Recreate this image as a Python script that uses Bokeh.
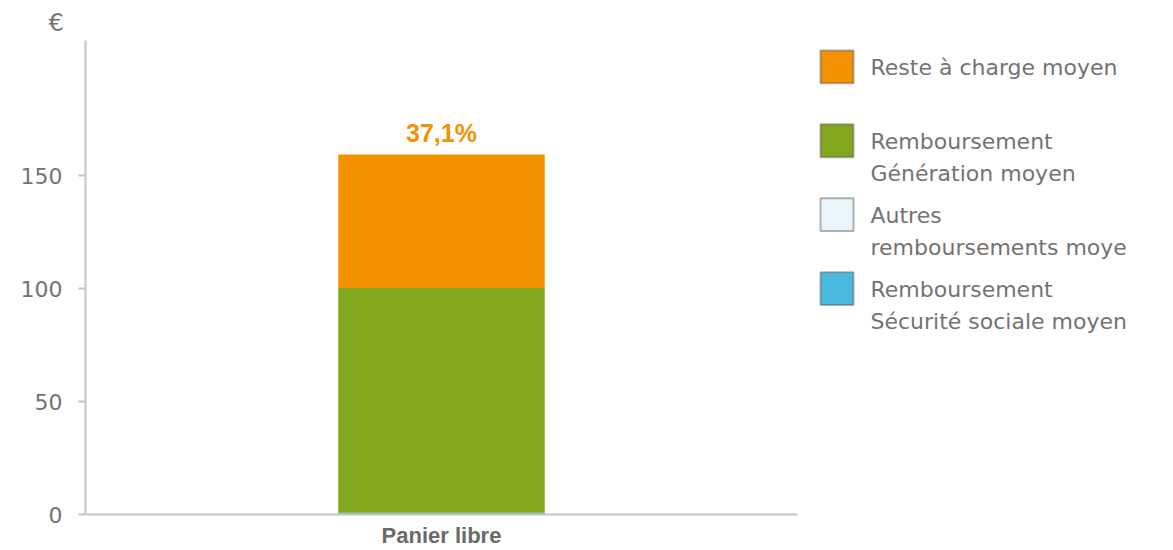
from bokeh.plotting import figure
from bokeh.layouts import row
from bokeh.models import FactorRange, Range1d, FixedTicker, ColumnDataSource
from bokeh.core.properties import value
from bokeh.embed import file_html
from bokeh.resources import INLINE

# ---- data ----
categories = ["Panier libre"]
securite_sociale = [0.8]
autres = [0.0]
generation = [99.5]
reste = [59.2]
reste_pct_labels = ["37,1%"]
series_keys = ["securite_sociale", "autres", "generation", "reste"]
series_names = ["Remboursement\nSécurité sociale moyen",
                "Autres\nremboursements moye",
                "Remboursement\nGénération moyen",
                "Reste à charge moyen"]
colors = ["#4AB9E0", "#EBF6FB", "#82A71E", "#F39200"]
y_ticks = [0, 50, 100, 150]
unit_label = "€"

totals = [a + b + c + d for a, b, c, d in zip(securite_sociale, autres, generation, reste)]

source = ColumnDataSource(dict(cat=categories, securite_sociale=securite_sociale,
                               autres=autres, generation=generation, reste=reste,
                               total=totals, pct=reste_pct_labels))

TEXT = "#737373"
AXIS = "#C4C4C4"
FONT = "Liberation Sans"
LFONT = "DejaVu Sans"
TOP, BOTTOM, H = 40, 33, 550

# ---------------- main chart ----------------
p = figure(x_range=FactorRange(factors=categories, range_padding=0),
           y_range=Range1d(0, 210),
           width=810, height=H,
           min_border_left=85, min_border_top=TOP, min_border_right=13,
           min_border_bottom=BOTTOM,
           output_backend="svg", toolbar_location=None, tools="")

p.vbar_stack(series_keys, x="cat", width=0.29, color=colors,
             line_width=0, source=source)

# percentage label above bar
p.text(x="cat", y="total", text="pct", source=source, y_offset=-21,
       text_align="center", text_baseline="middle",
       text_color="#F39200", text_font_size="25px", text_font_style="bold",
       text_font=value(FONT))

# unit label (as title in the top-left corner)
p.title.text = unit_label
p.title.align = "left"
p.title.offset = -37
p.title.standoff = 7
p.title.text_font = LFONT
p.title.text_font_size = "24px"
p.title.text_font_style = "normal"
p.title.text_color = TEXT

# axes
p.yaxis.ticker = FixedTicker(ticks=y_ticks)
p.yaxis.axis_line_color = AXIS
p.yaxis.axis_line_width = 2
p.yaxis.major_tick_line_color = AXIS
p.yaxis.major_tick_line_width = 2
p.yaxis.major_tick_out = 7
p.yaxis.major_tick_in = 0
p.yaxis.minor_tick_line_color = None
p.yaxis.major_label_standoff = 16
p.yaxis.major_label_text_font = LFONT
p.yaxis.major_label_text_font_size = "22px"
p.yaxis.major_label_text_color = TEXT

p.xaxis.axis_line_color = AXIS
p.xaxis.axis_line_width = 2
p.xaxis.major_tick_line_color = None
p.xaxis.major_tick_out = 0
p.xaxis.minor_tick_line_color = None
p.xaxis.major_label_standoff = 8
p.xaxis.major_label_text_font = FONT
p.xaxis.major_label_text_font_size = "22px"
p.xaxis.major_label_text_font_style = "bold"
p.xaxis.major_label_text_color = "#6A6A6A"

p.xgrid.grid_line_color = None
p.ygrid.grid_line_color = None
p.outline_line_color = None
p.background_fill_color = "white"
p.border_fill_color = "white"

# ---------------- legend panel ----------------
LW = 363
leg = figure(width=LW, height=H, x_range=Range1d(0, LW),
             y_range=Range1d(H - BOTTOM, TOP),   # screen-like pixel coords
             min_border_left=0, min_border_right=0,
             min_border_top=TOP, min_border_bottom=BOTTOM,
             x_axis_type=None, y_axis_type=None,
             output_backend="svg", toolbar_location=None, tools="")
leg.outline_line_color = None
leg.background_fill_color = "white"
leg.border_fill_color = "white"

order = list(range(len(series_names)))[::-1]   # top of stack first
first_top, step, box = 50, 74.4, 33
tops, bottoms, sq_colors = [], [], []
tx, ty, tt = [], [], []
for i, k in enumerate(order):
    top = first_top + step * i
    tops.append(top)
    bottoms.append(top + box)
    sq_colors.append(colors[k])
    for j, line in enumerate(series_names[k].split("\n")):
        tx.append(60)
        ty.append(top + 17 + 32.5 * j)
        tt.append(line)

leg.quad(left=10, right=10 + box, top=tops, bottom=bottoms,
         fill_color=sq_colors, line_color="#555555", line_alpha=0.45, line_width=2)
leg.text(x=tx, y=ty, text=tt, text_baseline="alphabetic", text_align="left",
         text_font=value(LFONT), text_font_size="22px", text_color=TEXT)

layout = row(p, leg, spacing=0)
open("out.html", "w").write(file_html(layout, INLINE))
